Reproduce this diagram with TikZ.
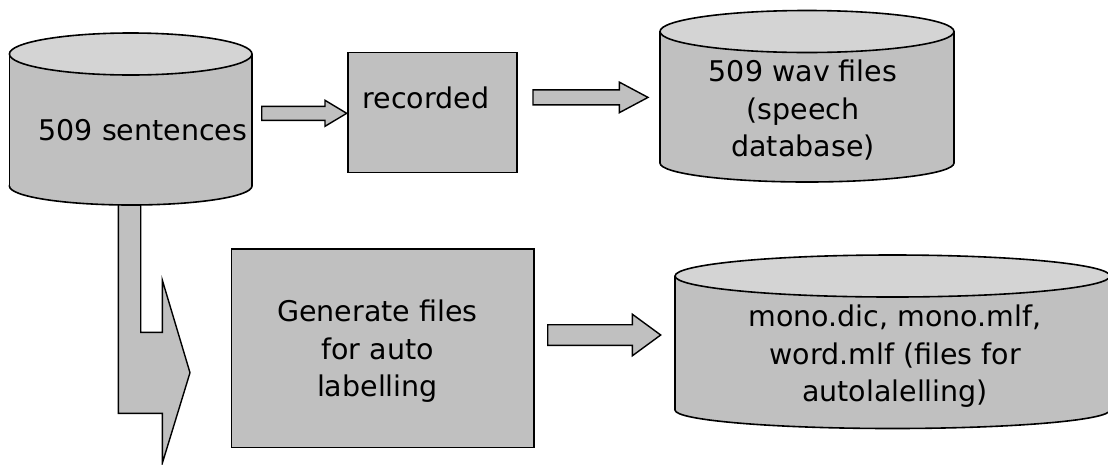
\documentclass[tikz,border=0pt]{standalone}
\usepackage{fontspec}
\setmainfont{DejaVu Sans}
\usetikzlibrary{calc}
\definecolor{boxgray}{RGB}{192,192,192}
\definecolor{lidgray}{RGB}{212,212,212}
\tikzset{
  outline/.style={draw=black, line width=1.6pt, line join=miter},
  procbox/.style={outline, fill=boxgray, rectangle, inner sep=0pt},
  lbl/.style={inner sep=0pt, align=center, text=black,
              font=\fontsize{28.5}{37.5}\selectfont},
  blockarrow/.style={outline, fill=boxgray, line width=1.4pt},
}
% cylinder (database symbol): centre x, x radius, top y, top y radius, bottom y, bottom y radius
\newcommand\dbcylinder[6]{%
  \path[outline, fill=boxgray] (#1,#5) ellipse [x radius=#2pt, y radius=#6pt];
  \fill[boxgray] ({#1-#2},#3) rectangle ({#1+#2},#5);
  \draw[outline] ({#1-#2},#3) -- ({#1-#2},#5) ({#1+#2},#3) -- ({#1+#2},#5);
  \path[outline, fill=lidgray] (#1,#3) ellipse [x radius=#2pt, y radius=#4pt];
}
% straight block arrow between two named coordinates: half shaft, half head, head length
\newcommand\fatarrow[5]{%
  \path[blockarrow] ($(#1)+(0,#3)$) -- ($(#2)+(-#5,#3)$) -- ($(#2)+(-#5,#4)$) -- (#2)
    -- ($(#2)+(-#5,-#4)$) -- ($(#2)+(-#5,-#3)$) -- ($(#1)+(0,-#3)$) -- cycle;
}
\begin{document}
\begin{tikzpicture}[x=1pt, y=-1pt]
\useasboundingbox (0,0) rectangle (1108,464);

% bent arrow leaving the sentence store downwards and turning right
\path[blockarrow] (118.3,195) -- (140.7,195) -- (140.7,332.3) -- (162.3,332.3)
  -- (162.3,280) -- (190,372.7) -- (162.3,463.3) -- (162.3,413.3)
  -- (118.3,413.3) -- cycle;

% stores (multi-line labels are placed by the baseline of their last line)
\dbcylinder{130.7}{121.3}{54}{21}{186}{19}
\node[lbl, anchor=base] (sent) at (143,140.5) {509 sentences};

\dbcylinder{807}{147}{31.5}{21}{163}{19}
\node[lbl, anchor=base] (wav) at (803,156.7) {509 wav files\\(speech\\database)};

\dbcylinder{892.5}{217.5}{276}{21}{410}{18.5}
\node[lbl, anchor=base] (mono) at (895,401.7) {mono.dic, mono.mlf,\\word.mlf (files for\\autolalelling)};

% processing steps
\node[procbox, minimum width=169pt, minimum height=120pt] (rec) at (432.2,112.3) {};
\node[lbl, anchor=base] (rectxt) at (426,108) {recorded};

\node[procbox, minimum width=302.3pt, minimum height=198.3pt] (gen) at (382.8,348.2) {};
\node[lbl, anchor=base] (gentxt) at (377.5,396.7) {Generate files\\for auto\\labelling};

% flow arrows
\coordinate (a1s) at (261.7,113.3);
\coordinate (a1e) at (346.7,113.3);
\coordinate (a2s) at (533,97.4);
\coordinate (a2e) at (648,97.4);
\coordinate (a3s) at (547.7,335);
\coordinate (a3e) at (660.7,335);
\fatarrow{a1s}{a1e}{7}{13}{21.7}
\fatarrow{a2s}{a2e}{7.5}{15.3}{28.7}
\fatarrow{a3s}{a3e}{10.3}{20.8}{28.4}
\end{tikzpicture}
\end{document}
